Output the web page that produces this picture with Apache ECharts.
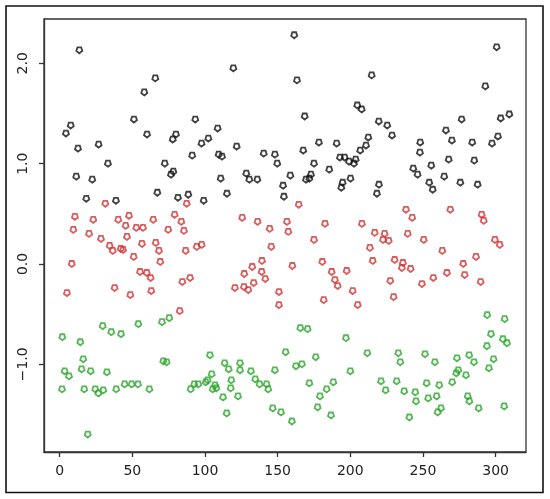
<!DOCTYPE html>
<html>
<head>
<meta charset="utf-8">
<script src="https://cdn.jsdelivr.net/npm/echarts@6/dist/echarts.min.js"></script>
<style>
  html, body { margin: 0; padding: 0; background: #fff; }
  #chart { width: 550px; height: 499px; }
</style>
</head>
<body>
<div id="chart"></div>
<script>
// cluster 1 (black)
const blackX = [13.5, 4.3, 7.6, 12.6, 26.8, 33.2, 11.4, 22.4, 18.3, 38.7, 51.1, 58.2, 65.8, 60.1, 72.3, 78.2, 76.6, 80.0, 77.8, 67.2,
  81.4, 88.5, 91.2, 93.3, 97.6, 161.4, 119.5, 163.3, 214.7, 108.7, 102.3, 121.8, 109.4, 111.7, 140.4, 148.1, 149.7, 168.6, 204.8, 207.8,
  219.6, 212.4, 210.8, 206.8, 178.4, 190.6, 167.6, 192.9, 196.1, 199.1, 202.5, 203.7, 175.0, 185.5, 128.4, 130.5, 136.0, 110.8, 158.7, 172.9,
  169.5, 171.8, 194.7, 193.8, 200.1, 153.7, 219.7, 218.3, 115.1, 154.3, 99.1, 300.7, 292.9, 225.4, 228.7, 276.6, 309.4, 303.5, 265.8, 269.9,
  283.9, 301.6, 297.5, 248.1, 247.9, 255.7, 267.7, 285.3, 243.3, 246.3, 264.6, 254.3, 256.7, 275.7, 287.6];
const blackY = [2.13, 1.30, 1.38, 1.15, 1.19, 1.00, 0.87, 0.84, 0.65, 0.63, 1.44, 1.71, 1.85, 1.29, 1.00, 0.92, 0.89, 1.29, 1.24, 0.71,
  0.66, 0.69, 1.08, 1.44, 1.20, 2.28, 1.95, 1.83, 1.88, 1.35, 1.25, 1.17, 1.09, 1.07, 1.10, 1.09, 1.00, 1.47, 1.58, 1.54,
  1.42, 1.26, 1.18, 1.13, 1.21, 1.20, 1.13, 1.06, 1.06, 1.02, 1.00, 1.04, 1.00, 0.94, 0.90, 0.84, 0.84, 0.85, 0.88, 0.89,
  0.84, 0.85, 0.81, 0.76, 0.85, 0.78, 0.79, 0.70, 0.70, 0.67, 0.63, 2.16, 1.77, 1.38, 1.28, 1.44, 1.49, 1.45, 1.33, 1.23,
  1.21, 1.27, 1.20, 1.21, 1.11, 0.98, 1.04, 1.03, 0.95, 0.89, 0.87, 0.81, 0.74, 0.81, 0.79];

// cluster 2 (red)
const redX = [31.4, 87.4, 10.5, 23.1, 40.3, 47.7, 45.4, 52.7, 57.3, 64.4, 79.1, 83.7, 74.7, 85.5, 9.4, 20.2, 46.3, 28.4, 34.4, 36.5,
  42.0, 43.6, 56.6, 66.1, 68.3, 86.7, 94.3, 97.7, 50.9, 69.2, 8.3, 55.3, 59.9, 62.6, 84.4, 89.7, 5.0, 37.8, 48.6, 63.0,
  82.6, 164.5, 125.6, 136.2, 144.5, 156.4, 157.3, 182.6, 175.0, 145.6, 139.2, 132.5, 127.0, 139.0, 141.5, 133.5, 120.6, 126.8, 129.8, 150.9,
  150.9, 160.1, 180.7, 187.2, 197.5, 189.4, 191.3, 201.6, 181.7, 205.1, 238.3, 242.6, 268.8, 290.4, 291.8, 208.0, 216.8, 223.6, 222.5, 226.4,
  239.5, 250.5, 213.5, 263.3, 299.5, 302.8, 215.4, 230.5, 236.2, 235.5, 241.5, 277.7, 286.5, 227.5, 249.3, 257.1, 266.5, 278.7, 289.7, 229.8];
const redY = [0.60, 0.60, 0.47, 0.44, 0.44, 0.48, 0.38, 0.36, 0.36, 0.44, 0.49, 0.42, 0.34, 0.33, 0.34, 0.30, 0.27, 0.25, 0.18, 0.13,
  0.15, 0.14, 0.20, 0.21, 0.13, 0.13, 0.17, 0.19, 0.07, 0.02, 0.00, -0.08, -0.09, -0.14, -0.18, -0.14, -0.29, -0.24, -0.31, -0.27,
  -0.47, 0.59, 0.46, 0.42, 0.35, 0.42, 0.32, 0.40, 0.24, 0.17, 0.03, -0.03, -0.10, -0.08, -0.15, -0.19, -0.24, -0.23, -0.26, -0.28,
  -0.41, -0.02, 0.02, -0.08, -0.07, -0.16, -0.22, -0.27, -0.36, -0.41, 0.54, 0.46, 0.54, 0.49, 0.43, 0.40, 0.31, 0.30, 0.24, 0.23,
  0.30, 0.24, 0.16, 0.13, 0.24, 0.19, 0.03, 0.04, 0.01, -0.04, -0.05, 0.00, 0.07, -0.17, -0.20, -0.14, -0.09, -0.11, -0.18, -0.33];

// cluster 3 (green)
const greenX = [29.6, 35.5, 42.2, 54.1, 70.4, 75.4, 1.8, 14.2, 16.2, 15.1, 21.3, 32.5, 3.4, 6.4, 71.3, 73.6, 1.6, 16.9, 24.5, 26.6,
  30.0, 38.9, 44.7, 49.5, 53.9, 61.7, 19.3, 90.1, 92.6, 95.4, 165.6, 170.6, 197.0, 103.4, 155.5, 176.2, 113.5, 116.3, 124.1, 124.1,
  131.6, 148.1, 162.6, 166.7, 200.0, 104.6, 100.5, 101.8, 105.3, 106.9, 107.8, 118.1, 117.7, 134.6, 137.6, 142.4, 143.5, 112.4, 122.7, 114.9,
  146.6, 152.3, 159.8, 171.8, 188.3, 183.7, 179.1, 177.5, 186.7, 294.2, 306.2, 296.8, 305.0, 307.8, 294.0, 211.7, 233.0, 234.4, 251.4, 258.2,
  273.4, 281.8, 285.1, 298.6, 274.3, 272.9, 279.6, 295.4, 221.1, 231.9, 224.3, 237.1, 244.7, 252.5, 261.2, 270.1, 253.6, 259.4, 245.2, 280.8,
  281.9, 262.4, 260.1, 288.3, 305.9, 240.6];
const greenY = [-0.62, -0.68, -0.70, -0.60, -0.58, -0.54, -0.73, -0.78, -0.95, -1.05, -1.07, -1.08, -1.07, -1.12, -0.97, -0.98, -1.25, -1.25, -1.25, -1.29,
  -1.26, -1.25, -1.20, -1.20, -1.20, -1.25, -1.70, -1.25, -1.20, -1.20, -0.64, -0.65, -0.74, -0.91, -0.88, -0.93, -0.99, -1.05, -0.99, -1.06,
  -1.07, -1.06, -1.02, -1.00, -1.07, -1.10, -1.18, -1.16, -1.25, -1.21, -1.24, -1.16, -1.24, -1.15, -1.20, -1.20, -1.25, -1.33, -1.32, -1.49,
  -1.44, -1.48, -1.57, -1.19, -1.18, -1.25, -1.32, -1.43, -1.51, -0.51, -0.55, -0.70, -0.75, -0.79, -0.82, -0.89, -0.89, -0.98, -0.90, -0.98,
  -0.94, -0.91, -0.98, -0.95, -1.06, -1.09, -1.11, -1.04, -1.17, -1.17, -1.26, -1.27, -1.28, -1.19, -1.21, -1.18, -1.34, -1.32, -1.37, -1.32,
  -1.37, -1.44, -1.48, -1.44, -1.42, -1.53];

const xTicks = [0, 50, 100, 150, 200, 250, 300];
const yTicks = [-1, 0, 1, 2];

const pts = (xs, ys) => xs.map((x, i) => [x, ys[i]]);
// open pentagon-ish marker, point down
const marker = 'path://M0,1 L0.95,0.31 L0.59,-0.81 L-0.59,-0.81 L-0.95,0.31 Z';

function cluster(data, color) {
  return {
    type: 'scatter',
    data: data,
    symbol: marker,
    symbolSize: 6,
    itemStyle: { color: 'rgba(0,0,0,0)', borderColor: color, borderWidth: 1.8 },
    animation: false,
  };
}

const chart = echarts.init(document.getElementById('chart'));
chart.setOption({
  backgroundColor: '#fff',
  animation: false,
  textStyle: { fontFamily: 'DejaVu Sans' },
  grid: {
    left: 44, top: 19, right: 24, bottom: 47,
    show: true, borderColor: '#333', borderWidth: 1.3,
  },
  graphic: [{
    type: 'rect',
    shape: { x: 6, y: 6, width: 537, height: 486.5 },
    style: { fill: 'none', stroke: '#111', lineWidth: 1.6 },
    silent: true,
  }],
  xAxis: {
    type: 'value',
    min: -10.8,
    max: 320.9,
    splitLine: { show: false },
    axisLine: { show: true, onZero: false, lineStyle: { color: '#333', width: 1.3 } },
    axisTick: { show: true, length: 5, customValues: xTicks, lineStyle: { color: '#333', width: 1.3 } },
    axisLabel: { customValues: xTicks, fontSize: 14, color: '#222', margin: 12 },
  },
  yAxis: {
    type: 'value',
    min: -1.874,
    max: 2.442,
    splitLine: { show: false },
    axisLine: { show: true, onZero: false, lineStyle: { color: '#333', width: 1.3 } },
    axisTick: { show: true, length: 5, customValues: yTicks, lineStyle: { color: '#333', width: 1.3 } },
    axisLabel: {
      customValues: yTicks, fontSize: 14, color: '#222', rotate: 90, margin: 14,
      formatter: (v) => (v < 0 ? '\u2212' : '') + Math.abs(v).toFixed(1),
    },
  },
  series: [
    cluster(pts(blackX, blackY), '#111'),
    cluster(pts(redX, redY), '#d03434'),
    cluster(pts(greenX, greenY), '#2ca52c'),
  ],
});
</script>
</body>
</html>
